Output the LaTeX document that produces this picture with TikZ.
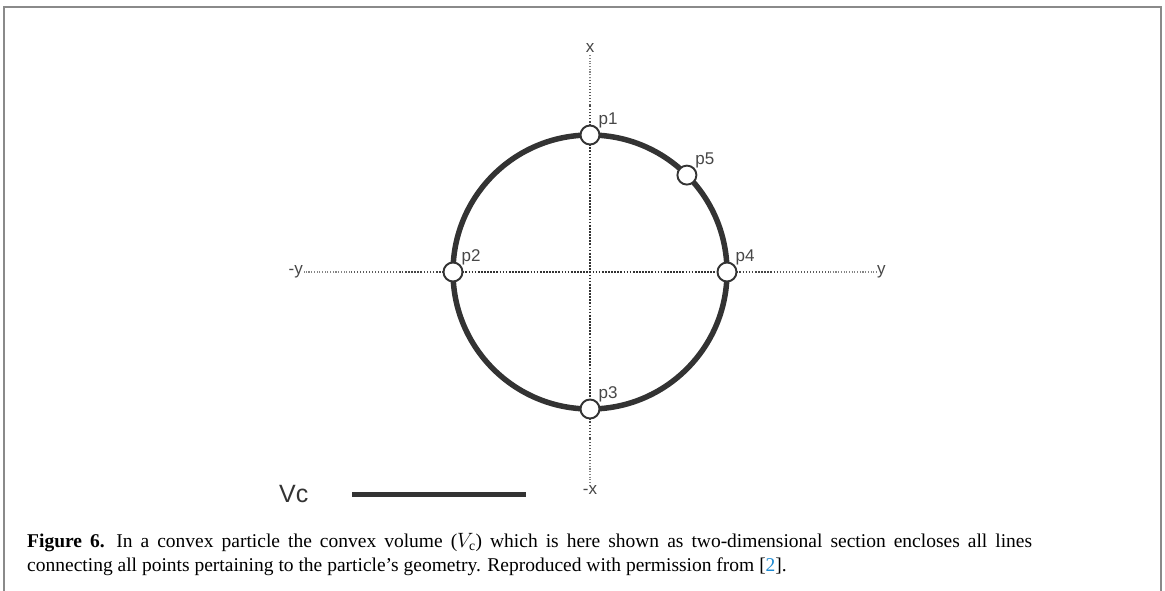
\documentclass[tikz,border=0pt]{standalone}
\usepackage{fontspec}
\setmainfont{Liberation Serif}
\setsansfont{Liberation Sans}
\definecolor{frame}{HTML}{8A8A8A}
\definecolor{ink}{HTML}{333333}
\definecolor{cite}{HTML}{1E8AD2}
\begin{document}
\begin{tikzpicture}[x=1pt,y=-1pt,
  pt/.style={circle,draw=ink,fill=white,line width=1.9pt,minimum size=19pt,inner sep=0pt},
  lab/.style={font=\sffamily\fontsize{17}{17}\selectfont,text=ink!90,inner sep=1pt},
  axisin/.style={draw=ink,line width=2.4pt,dash pattern=on 1.7pt off 1.4pt},
  axismid/.style={draw=ink!90,line width=2pt,dash pattern=on 1.6pt off 1.5pt},
  axisfar/.style={draw=ink!80,line width=1.6pt,dash pattern=on 1.4pt off 1.6pt},
  axisend/.style={draw=ink!60,line width=1.1pt,dash pattern=on 1.1pt off 1.6pt}]
\useasboundingbox (0,0) rectangle (1165,591);
% frame
\draw[frame,line width=2pt] (4,591) -- (4,7) -- (1161,7) -- (1161,591);
% centre and axis ends
\coordinate (o) at (590,272);
\coordinate (xt) at (590,54);
\coordinate (xb) at (590,484);
\coordinate (yl) at (304,272);
\coordinate (yr) at (876,272);
% axes (fading toward the ends)
\draw[axisin] (590,135) -- (590,409);
\draw[axisin] (453,272) -- (727,272);
\draw[axismid] (590,135) -- (590,105);
\draw[axisfar] (590,105) -- (590,78);
\draw[axisend] (590,78) -- (xt);
\draw[axismid] (590,409) -- (590,439);
\draw[axisfar] (590,439) -- (590,463);
\draw[axisend] (590,463) -- (xb);
\draw[axismid] (453,272) -- (400,272);
\draw[axisfar] (400,272) -- (350,272);
\draw[axisend] (350,272) -- (yl);
\draw[axismid] (727,272) -- (780,272);
\draw[axisfar] (780,272) -- (830,272);
\draw[axisend] (830,272) -- (yr);
% axis labels
\node[lab,anchor=south] (lx) at (xt) {x};
\node[lab,anchor=north] (lmx) at (xb) {-x};
\node[lab,anchor=east] (lmy) at (yl) {-y};
\node[lab,anchor=west] (ly) at (yr) {y};
% convex outline
\draw[ink,line width=5.5pt] (o) circle (137);
% points
\node[pt] (p1) at (590,135) {};
\node[pt] (p2) at (453,272) {};
\node[pt] (p3) at (590,409) {};
\node[pt] (p4) at (727,272) {};
\node[pt] (p5) at (686.9,175.1) {};
\node[lab,anchor=south west] at ([xshift=0pt,yshift=-2pt]p1.north east) {p1};
\node[lab,anchor=south west] at ([xshift=0pt,yshift=-2pt]p2.north east) {p2};
\node[lab,anchor=south west] at ([xshift=0pt,yshift=-2pt]p3.north east) {p3};
\node[lab,anchor=south west] at ([xshift=0pt,yshift=-2pt]p4.north east) {p4};
\node[lab,anchor=south west] at ([xshift=0pt,yshift=-2pt]p5.north east) {p5};
% legend
\node[font=\sffamily\fontsize{25}{25}\selectfont,text=ink,anchor=west,inner sep=0pt] (vc) at (279,494) {Vc};
\coordinate (la) at (352,494);
\coordinate (lb) at (526,494);
\draw[ink,line width=5pt] (la) -- (lb);
% caption
\node[anchor=north west,inner sep=0pt,text width=1005pt,align=justify,
  font=\fontsize{19.5}{24}\selectfont] (cap) at (27,533)
  {\textbf{Figure 6.}\hspace{0.6em}In a convex particle the convex volume ($V_{\mathrm{c}}$) which is here shown as two-dimensional section encloses all lines\linebreak
  connecting all points pertaining to the particle’s geometry. Reproduced with permission from [\textcolor{cite}{2}].\par};
\end{tikzpicture}
\end{document}
